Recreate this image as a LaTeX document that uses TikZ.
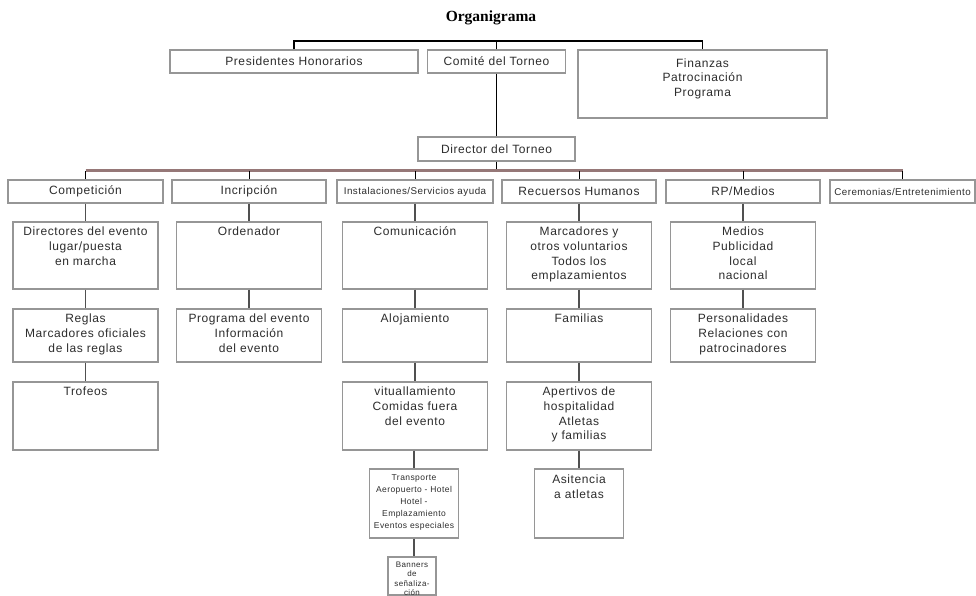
\documentclass[tikz,border=0pt]{standalone}
\usepackage{fontspec}
\setmainfont{Liberation Sans}[LetterSpace=5]
\newfontfamily\titlefont{Liberation Serif}
\definecolor{boxgray}{RGB}{150,150,150}
\definecolor{linegray}{RGB}{80,80,80}
\definecolor{busc}{RGB}{150,120,120}
\definecolor{txtc}{RGB}{45,45,45}
\begin{document}
\begin{tikzpicture}[x=1pt,y=-1pt,
  box/.style={draw=boxgray, line width=1.2pt, fill=white, inner sep=0pt, text=txtc,
    font=\fontsize{12}{14.7}\selectfont},
  head/.style={box, minimum height=23pt},
  sub/.style={box, minimum width=145pt},
  lab/.style={anchor=north, inner sep=0pt, align=center, text=txtc,
    font=\fontsize{12}{14.7}\selectfont},
  smallf/.style={font=\fontsize{9.8}{12}\selectfont},
  topline/.style={draw=black, line width=1.2pt},
  bus/.style={draw=busc, line width=3pt},
  tick/.style={draw=black, line width=1pt},
  conn/.style={draw=linegray, line width=1.6pt},
  titlef/.style={inner sep=0pt, font=\titlefont\bfseries\fontsize{15.5}{18}\selectfont}]
\useasboundingbox[fill=white] (0,0) rectangle (976,596);

% title and top level
\node[titlef] (title) at (491,18) {Organigrama};
\node[box, minimum width=248pt, minimum height=23pt] (pres) at (294,61.5) {Presidentes Honorarios};
\node[box, minimum width=138pt, minimum height=23pt] (com) at (496.5,61.5) {Comité del Torneo};
\node[box, minimum width=249pt, minimum height=68pt] (fin) at (702.5,84) {};
\node[lab] (finl) at ([yshift=-9pt]fin.north) {Finanzas\\Patrocinación\\Programa};
\node[box, minimum width=157pt, minimum height=24pt] (dir) at (496.5,149) {Director del Torneo};

\coordinate (tb) at (0,41);
\draw[topline] (pres.north) -- (pres.north |- tb) -- (fin.north |- tb) -- (fin.north);
\draw[topline] (com.north) -- (com.north |- tb);
\draw[topline] (com.south) -- (dir.north);

% headings
\node[head, minimum width=155pt] (h1) at (85.5,191.5) {Competición};
\node[head, minimum width=154pt] (h2) at (249,191.5) {Incripción};
\node[head, minimum width=156pt, smallf] (h3) at (415,191.5) {Instalaciones/Servicios ayuda};
\node[head, minimum width=154pt] (h4) at (579,191.5) {Recuersos Humanos};
\node[head, minimum width=154pt] (h5) at (743,191.5) {RP/Medios};
\node[head, minimum width=145pt, smallf] (h6) at (902.5,191.5) {Ceremonias/Entretenimiento};

\coordinate (bb) at (0,171);
\draw[topline] (dir.south) -- (dir.south |- bb);
\draw[bus] (h1.north |- bb) -- (h6.north |- bb);
\foreach \h in {h1,h2,h3,h4,h5,h6} \draw[tick] (\h.north |- bb) -- (\h.north);

% column 1
\node[sub, minimum height=67pt] (a1) at (85.5,255.5) {};
\node[sub, minimum height=53pt] (a2) at (85.5,335.5) {};
\node[sub, minimum height=68pt] (a3) at (85.5,416) {};
\node[lab] (a1l) at ([yshift=-5.5pt]a1.north) {Directores del evento\\lugar/puesta\\en marcha};
\node[lab] (a2l) at ([yshift=-5.5pt]a2.north) {Reglas\\Marcadores oficiales\\de las reglas};
\node[lab] (a3l) at ([yshift=-5.5pt]a3.north) {Trofeos};

% column 2
\node[sub, minimum height=67pt] (b1) at (249,255.5) {};
\node[sub, minimum height=53pt] (b2) at (249,335.5) {};
\node[lab] (b1l) at ([yshift=-5.5pt]b1.north) {Ordenador};
\node[lab] (b2l) at ([yshift=-5.5pt]b2.north) {Programa del evento\\Información\\del evento};

% column 3
\node[sub, minimum height=67pt] (c1) at (415,255.5) {};
\node[sub, minimum height=53pt] (c2) at (415,335.5) {};
\node[sub, minimum height=68pt] (c3) at (415,416) {};
\node[box, minimum width=89pt, minimum height=69pt] (c4) at (414,503.5) {};
\node[box, minimum width=48pt, minimum height=38pt] (c5) at (412,576) {};
\node[lab] (c1l) at ([yshift=-5.5pt]c1.north) {Comunicación};
\node[lab] (c2l) at ([yshift=-5.5pt]c2.north) {Alojamiento};
\node[lab] (c3l) at ([yshift=-5.5pt]c3.north) {vituallamiento\\Comidas fuera\\del evento};
\node[lab, font=\fontsize{8.5}{12}\selectfont] (c4l) at ([yshift=-6pt]c4.north)
  {Transporte\\Aeropuerto - Hotel\\Hotel -\\Emplazamiento\\Eventos especiales};
\node[lab, font=\fontsize{8}{9.5}\selectfont] (c5l) at ([yshift=-5pt]c5.north)
  {Banners\\de\\señaliza-\\ción};

% column 4
\node[sub, minimum height=67pt] (d1) at (579,255.5) {};
\node[sub, minimum height=53pt] (d2) at (579,335.5) {};
\node[sub, minimum height=68pt] (d3) at (579,416) {};
\node[box, minimum width=89pt, minimum height=69pt] (d4) at (579,503.5) {};
\node[lab] (d1l) at ([yshift=-5.5pt]d1.north) {Marcadores y\\otros voluntarios\\Todos los\\emplazamientos};
\node[lab] (d2l) at ([yshift=-5.5pt]d2.north) {Familias};
\node[lab] (d3l) at ([yshift=-5.5pt]d3.north) {Apertivos de\\hospitalidad\\Atletas\\y familias};
\node[lab] (d4l) at ([yshift=-6.5pt]d4.north) {Asitencia\\a atletas};

% column 5
\node[sub, minimum height=67pt] (e1) at (743,255.5) {};
\node[sub, minimum height=53pt] (e2) at (743,335.5) {};
\node[lab] (e1l) at ([yshift=-5.5pt]e1.north) {Medios\\Publicidad\\local\\nacional};
\node[lab] (e2l) at ([yshift=-5.5pt]e2.north) {Personalidades\\Relaciones con\\patrocinadores};

% connectors
\draw[conn] (h1.south) -- (a1.north);
\draw[conn] (a1.south) -- (a2.north);
\draw[conn] (a2.south) -- (a3.north);
\draw[conn] (h2.south) -- (b1.north);
\draw[conn] (b1.south) -- (b2.north);
\draw[conn] (h3.south) -- (c1.north);
\draw[conn] (c1.south) -- (c2.north);
\draw[conn] (c2.south) -- (c3.north);
\draw[conn] (c3.south -| c4.south) -- (c4.north);
\draw[conn] (c4.south) -- (c4.south |- c5.north);
\draw[conn] (h4.south) -- (d1.north);
\draw[conn] (d1.south) -- (d2.north);
\draw[conn] (d2.south) -- (d3.north);
\draw[conn] (d3.south) -- (d4.north);
\draw[conn] (h5.south) -- (e1.north);
\draw[conn] (e1.south) -- (e2.north);
\end{tikzpicture}
\end{document}
